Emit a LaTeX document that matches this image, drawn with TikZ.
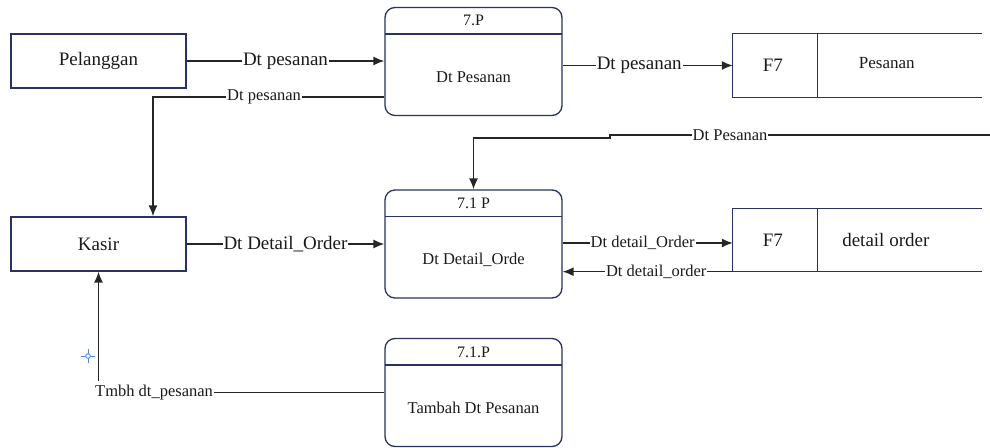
\documentclass[tikz,border=0pt]{standalone}
\usepackage{fontspec}
\setmainfont{Liberation Serif}
\usetikzlibrary{arrows.meta}
\definecolor{navy}{HTML}{2A3163}
\definecolor{ink}{HTML}{1A1A1A}
\definecolor{wire}{HTML}{262626}
\definecolor{crossblue}{HTML}{4A8FE0}
\tikzset{
  big/.style={font=\fontsize{19}{22}\selectfont, text=ink},
  small/.style={font=\fontsize{16.5}{19}\selectfont, text=ink},
  ent/.style={draw=navy, line width=1.3pt, minimum width=175pt, minimum height=54pt, inner sep=0pt, big},
  proc/.style={draw=navy, line width=1.3pt, rounded corners=10pt, minimum width=177pt, minimum height=108pt, inner sep=0pt,
    path picture={\draw[navy, line width=1.3pt] ([yshift=-26.5pt]path picture bounding box.north west) -- ([yshift=-26.5pt]path picture bounding box.north east);}},
  store/.style={minimum width=249pt, minimum height=63pt, inner sep=0pt},
  storeline/.style={draw=navy, line width=1.3pt},
  wireline/.style={draw=wire, line width=1.4pt},
  arr/.style={wireline, -{Latex[length=11pt,width=9pt]}},
  lblbig/.style={big, fill=white, inner sep=1pt},
  lblsmall/.style={small, fill=white, inner sep=1pt},
}
\begin{document}
\begin{tikzpicture}[x=1pt, y=-1pt]
\useasboundingbox (0,0) rectangle (990,447);

% external entities
\node[ent] (pel) at (98.5,61) {Pelanggan};
\node[ent] (kas) at (98.5,244) {Kasir};

% processes
\node[proc] (p7) at (473.5,61.5) {};
\node[small, font=\fontsize{16}{19}\selectfont] (p7t) at ([yshift=-13.5pt]p7.north) {7.P};
\node[small] (p7b) at ([yshift=-15.5pt]p7.center) {Dt Pesanan};

\node[proc] (p71) at (473.5,244) {};
\node[small, font=\fontsize{16}{19}\selectfont] (p71t) at ([yshift=-14pt]p71.north) {7.1 P};
\node[small] (p71b) at ([yshift=-15.5pt]p71.center) {Dt Detail\_Orde};

\node[proc] (p73) at (473.5,392.5) {};
\node[small, font=\fontsize{16}{19}\selectfont] (p73t) at ([yshift=-14pt]p73.north) {7.1.P};
\node[small] (p73b) at ([yshift=-15.5pt]p73.center) {Tambah Dt Pesanan};

% data stores
\node[store] (s1) at (857.5,65.5) {};
\draw[storeline] (s1.north east) -- (s1.north west) -- (s1.south west) -- (s1.south east);
\draw[storeline] ([xshift=85pt]s1.north west) -- ([xshift=85pt]s1.south west);
\node[big] (s1id) at ([xshift=40pt]s1.west) {F7};
\node[small, font=\fontsize{17}{20}\selectfont] (s1nm) at ([xshift=154pt,yshift=2pt]s1.west) {Pesanan};

\node[store] (s2) at (857.5,240) {};
\draw[storeline] (s2.north east) -- (s2.north west) -- (s2.south west) -- (s2.south east);
\draw[storeline] ([xshift=85pt]s2.north west) -- ([xshift=85pt]s2.south west);
\node[big] (s2id) at ([xshift=40pt]s2.west) {F7};
\node[big] (s2nm) at ([xshift=153pt]s2.west) {detail order};

% connectors
\draw[arr] (pel.east) -- node[lblbig] {Dt pesanan} (pel.east -| p7.west);
\draw[arr] (s1.west -| p7.east) -- node[lblbig, pos=0.45] {Dt pesanan} (s1.west);

\coordinate (p7low) at ([yshift=-35.5pt]p7.west);
\coordinate (kasin) at ([xshift=54.5pt]kas.north);
\draw[arr] (p7low) -| node[lblsmall, pos=0.26] {Dt pesanan} (kasin);

\draw[arr] (kas.east) -- node[lblbig] {Dt Detail\_Order} (kas.east -| p71.west);

\coordinate (dpR) at (990,135);
\coordinate (dpS1) at (610,135);
\coordinate (dpS2) at (610,138);
\coordinate (dpL) at (p71.north |- dpS2);
\draw[arr] (dpR) -- node[lblsmall, pos=0.684] {Dt Pesanan} (dpS1) -- (dpS2) -- (dpL) -- (p71.north);

\coordinate (o1) at ([yshift=1pt]p71.east);
\draw[arr] (o1) -- node[lblsmall, pos=0.47] {Dt detail\_Order} (o1 -| s2.west);
\draw[arr] (s2.south west) -- node[lblsmall, pos=0.45] {Dt detail\_order} (s2.south west -| p71.east);

\draw[arr] (p73.west) -| node[lblsmall, pos=0.5, anchor=west, xshift=-5pt, inner ysep=4pt] {Tmbh dt\_pesanan} (kas.south);

% editor crosshair marker
\draw[crossblue, line width=0.9pt] (88,356) circle (2.3pt);
\draw[crossblue, line width=0.9pt] (81,356) -- (85.7,356) (90.3,356) -- (95,356) (88,349) -- (88,353.7) (88,358.3) -- (88,363);
\end{tikzpicture}
\end{document}
